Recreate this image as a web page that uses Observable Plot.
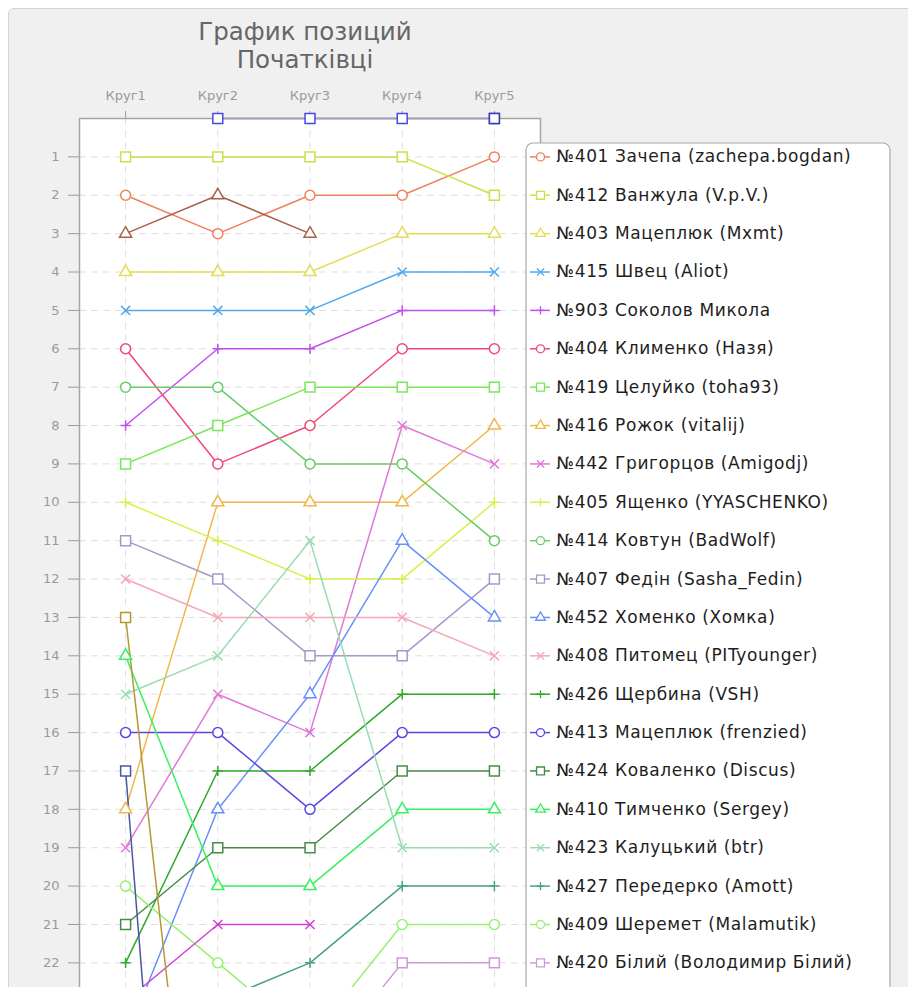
<!DOCTYPE html>
<html>
<head>
<meta charset="utf-8">
<script src="https://cdn.jsdelivr.net/npm/d3@7"></script>
<script src="https://cdn.jsdelivr.net/npm/@observablehq/plot@0.6"></script>
<style>
  html, body { margin: 0; padding: 0; background: #ffffff; overflow: hidden; width: 908px; height: 987px; }
  #panel { position: absolute; left: 8px; top: 8px; width: 1100px; height: 2300px; background: #f0f0f0; border: 1px solid #d4d4d4; border-radius: 6px; }
  #chart { position: absolute; left: 0; top: 0; }
  #title { position: absolute; left: 105px; top: 18px; width: 400px; text-align: center; font-family: "DejaVu Sans", sans-serif; font-size: 24.5px; line-height: 28px; color: #666666; z-index: 2; }
</style>
</head>
<body>
<div id="panel"></div>
<div id="chart"></div>
<div id="title">График позиций<br>Початківці</div>
<script>
const rounds = ["Круг1", "Круг2", "Круг3", "Круг4", "Круг5"];

const players = [
  "№401 Зачепа (zachepa.bogdan)",
  "№412 Ванжула (V.p.V.)",
  "№403 Мацеплюк (Mxmt)",
  "№415 Швец (Aliot)",
  "№903 Соколов Микола",
  "№404 Клименко (Назя)",
  "№419 Целуйко (toha93)",
  "№416 Рожок (vitalij)",
  "№442 Григорцов (Amigodj)",
  "№405 Ященко (YYASCHENKO)",
  "№414 Ковтун (BadWolf)",
  "№407 Федін (Sasha_Fedin)",
  "№452 Хоменко (Хомка)",
  "№408 Питомец (PITyounger)",
  "№426 Щербина (VSH)",
  "№413 Мацеплюк (frenzied)",
  "№424 Коваленко (Discus)",
  "№410 Тимченко (Sergey)",
  "№423 Калуцький (btr)",
  "№427 Передерко (Amott)",
  "№409 Шеремет (Malamutik)",
  "№420 Білий (Володимир Білий)"
];

const colors = [
  "#f0805a", "#c4e448", "#e4dc58", "#52a8e8", "#c050f0", "#f04878",
  "#78e858", "#f0b848", "#e078d8", "#d8f048", "#68cc68", "#a898c8",
  "#6890f8", "#f4a8b8", "#30a828", "#5848e0", "#4a8a48", "#38f060",
  "#98dcb0", "#48a088", "#98f070", "#d098d8"
];

const symbols = [
  "circle", "square", "triangle", "times", "plus",
  "circle", "square", "triangle", "times", "plus",
  "circle", "square", "triangle", "times", "plus",
  "circle", "square", "triangle", "times", "plus",
  "circle", "square"
];

// positions per round (Круг1..Круг5); null = not visible / not played
const positions = [
  [2, 3, 2, 2, 1],
  [1, 1, 1, 1, 2],
  [4, 4, 4, 3, 3],
  [5, 5, 5, 4, 4],
  [8, 6, 6, 5, 5],
  [6, 9, 8, 6, 6],
  [9, 8, 7, 7, 7],
  [18, 10, 10, 10, 8],
  [19, 15, 16, 8, 9],
  [10, 11, 12, 12, 10],
  [7, 7, 9, 9, 11],
  [11, 12, 14, 14, 12],
  [24, 18, 15, 11, 13],
  [12, 13, 13, 13, 14],
  [22, 17, 17, 15, 15],
  [16, 16, 18, 16, 16],
  [21, 19, 19, 17, 17],
  [14, 20, 20, 18, 18],
  [15, 14, 11, 19, 19],
  [null, 23, 22, 20, 20],
  [20, 22, 24, 21, 21],
  [null, null, 25, 22, 22]
];

// further series whose legend rows lie below the visible area
const extraColors = ["#a86048", "#d040d8", "#b89830", "#4858a0", "#4848e0", "#3a3ab0"];
const extraSymbols = ["triangle", "times", "square", "square", "square", "square"];
const extraPositions = [
  [3, 2, 3, null, null],
  [23, 21, 21, null, null],
  [13, 34, null, null, null],
  [17, 47, null, null, null],
  [null, 0, 0, 0, 0],
  [null, null, null, null, 0]
];

const yTicks = d3.range(1, 23);      // labelled rows in view
const yGrid = d3.range(1, 50);       // grid rows

// layout (pixels)
const W = 908, padL = 79, padR = 540, padT = 118, rowH = 38.38, nRows = 50;
const step = (padR - padL) / rounds.length;
const px2x = (px) => 0.5 + (px - padL) / step;
const px2y = (py) => (py - padT) / rowH;

const R = { circle: 5, square: 5.6, triangle: 4.5, times: 4.2, plus: 3.4 };
const font = "DejaVu Sans, sans-serif";

const series = [];
positions.forEach((p, i) => series.push({ name: players[i], color: colors[i], symbol: symbols[i], values: p, row: i + 1 }));
extraPositions.forEach((p, i) => series.push({ name: null, color: extraColors[i], symbol: extraSymbols[i], values: p, row: null }));

const lineMarks = [], dotMarks = [], legendMarks = [];
for (const s of series) {
  const pts = s.values.map((v, j) => ({ x: j + 1, y: v })).filter(d => d.y != null);
  lineMarks.push(Plot.line(pts, { x: "x", y: "y", stroke: s.color, strokeWidth: 1.5 }));
  dotMarks.push(Plot.dot(pts, { x: "x", y: "y", symbol: s.symbol, r: R[s.symbol], stroke: s.color, fill: "white", strokeWidth: 1.5 }));
  if (s.row != null) {
    const row = [{ y: s.row, label: s.name }];
    legendMarks.push(Plot.ruleY(row, { y: "y", x1: () => px2x(530), x2: () => px2x(550), stroke: s.color, strokeWidth: 1.5 }));
    legendMarks.push(Plot.dot(row, { x: () => px2x(540), y: "y", symbol: s.symbol, r: R[s.symbol] * 0.8, stroke: s.color, fill: "white", strokeWidth: 1.3 }));
    legendMarks.push(Plot.text(row, { x: () => px2x(556), y: "y", text: "label", textAnchor: "start", fontSize: 17, fill: "#1e1e1e", fontFamily: font }));
  }
}

const chart = Plot.plot({
  width: W,
  height: padT + nRows * rowH + 30,
  marginLeft: padL,
  marginRight: W - padR,
  marginTop: padT,
  marginBottom: 30,
  style: { background: "transparent", fontFamily: font, fontSize: "13px", color: "#9a9a9a" },
  x: {
    domain: [0.5, 5.5],
    axis: "top",
    ticks: [1, 2, 3, 4, 5],
    tickFormat: (d) => rounds[d - 1],
    tickSize: 8,
    tickPadding: 11,
    label: null
  },
  y: {
    domain: [0, nRows],
    reverse: true,
    ticks: yTicks,
    tickFormat: (d) => String(d),
    tickSize: 11,
    tickPadding: 9,
    label: null
  },
  marks: [
    Plot.frame({ fill: "white", stroke: null }),
    Plot.ruleY(yGrid, { stroke: "#dedede", strokeDasharray: "7,5" }),
    Plot.ruleX([1, 2, 3, 4, 5], { stroke: "#dedede", strokeDasharray: "7,5" }),
    ...lineMarks,
    Plot.frame({ stroke: "#a4a4a4", strokeWidth: 1.5 }),
    ...dotMarks,
    Plot.rect([0], { x1: () => px2x(526), x2: () => px2x(890), y1: () => px2y(143), y2: () => 40, fill: "white", stroke: "#a8a8a8", strokeWidth: 1.2, rx: 7 }),
    ...legendMarks
  ]
});
d3.select(chart).selectAll("g[aria-label='text'] text").attr("letter-spacing", "0.6px");
document.getElementById("chart").appendChild(chart);
</script>
</body>
</html>
